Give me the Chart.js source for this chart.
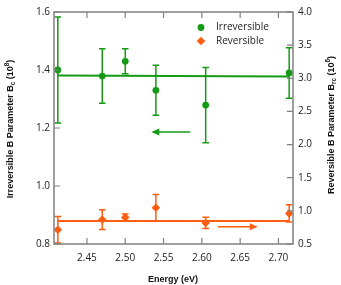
<!DOCTYPE html>
<html>
<head>
<meta charset="utf-8">
<script src="https://cdn.jsdelivr.net/npm/chart.js@4/dist/chart.umd.min.js"></script>
<style>
html,body{margin:0;padding:0;background:#fff;}
#wrap{width:341px;height:285px;position:relative;}
</style>
</head>
<body>
<div id="wrap"><canvas id="c" width="341" height="285"></canvas></div>
<script>
// ---- data ----
const energy   = [2.412, 2.470, 2.500, 2.540, 2.605, 2.714];
const irrev    = [1.400, 1.379, 1.430, 1.330, 1.279, 1.390];
const irrevErr = [0.183, 0.094, 0.043, 0.086, 0.130, 0.087];
const rev      = [0.716, 0.867, 0.901, 1.047, 0.817, 0.961];
const revErr   = [0.200, 0.150, 0.050, 0.200, 0.085, 0.130];
const fitX     = [2.412, 2.714];
const irrevFit = [1.381, 1.378];
const revFit   = [0.847, 0.847];
const xTicks   = [2.45, 2.50, 2.55, 2.60, 2.65, 2.70];
const yTicks   = [0.8, 1.0, 1.2, 1.4, 1.6];
const y2Ticks  = [0.5, 1.0, 1.5, 2.0, 2.5, 3.0, 3.5, 4.0];
const arrowIrrev = {x: [2.585, 2.534], y: 1.186};   // left axis
const arrowRev   = {x: [2.621, 2.673], y: 0.76};    // right axis
const legendLabels = ["Irreversible", "Reversible"];

const GREEN = "#159a15";
const ORANGE = "#ff5e12";
const AXIS = "#808080";
const TXT = "#222222";

function pts(xs, ys){ return xs.map((x,i)=>({x:x, y:ys[i]})); }

function drawRich(ctx, parts, size){
  const small = size*0.7;
  let total = 0;
  parts.forEach(p=>{ ctx.font = "bold " + (p[1]?small:size) + "px 'Liberation Sans', Arial, sans-serif"; total += ctx.measureText(p[0]).width; });
  let x = -total/2;
  parts.forEach(p=>{
    const s = p[1]?small:size;
    ctx.font = "bold " + s + "px 'Liberation Sans', Arial, sans-serif";
    const dy = p[1]===1 ? -size*0.45 : (p[1]===-1 ? size*0.3 : 0);
    ctx.fillText(p[0], x, dy);
    x += ctx.measureText(p[0]).width;
  });
}

const deco = {
  id: "deco",
  beforeDatasetsDraw(chart){
    const ctx = chart.ctx, xs = chart.scales.x, y = chart.scales.y, y2 = chart.scales.y2;
    ctx.save();
    ctx.lineWidth = 1.5;
    const cap = 3.3;
    [[irrev, irrevErr, y, GREEN],[rev, revErr, y2, ORANGE]].forEach(([vals, errs, sc, col])=>{
      ctx.strokeStyle = col;
      vals.forEach((v,i)=>{
        const px = xs.getPixelForValue(energy[i]);
        const t = sc.getPixelForValue(v+errs[i]), b = sc.getPixelForValue(v-errs[i]);
        ctx.beginPath();
        ctx.moveTo(px, t); ctx.lineTo(px, b);
        ctx.moveTo(px-cap, t); ctx.lineTo(px+cap, t);
        ctx.moveTo(px-cap, b); ctx.lineTo(px+cap, b);
        ctx.stroke();
      });
    });
    ctx.restore();
  },
  afterDraw(chart){
    const ctx = chart.ctx, a = chart.chartArea, xs = chart.scales.x, y = chart.scales.y, y2 = chart.scales.y2;
    ctx.save();
    ctx.strokeStyle = AXIS; ctx.lineWidth = 1.5;
    ctx.strokeRect(a.left, a.top, a.right-a.left, a.bottom-a.top);
    const tl = 6;
    ctx.lineWidth = 1.2;
    ctx.beginPath();
    xTicks.forEach(v=>{ const p = xs.getPixelForValue(v);
      ctx.moveTo(p, a.bottom); ctx.lineTo(p, a.bottom-tl);
      ctx.moveTo(p, a.top); ctx.lineTo(p, a.top+tl); });
    yTicks.forEach(v=>{ const p = y.getPixelForValue(v);
      ctx.moveTo(a.left, p); ctx.lineTo(a.left+tl, p); });
    y2Ticks.forEach(v=>{ const p = y2.getPixelForValue(v);
      ctx.moveTo(a.right, p); ctx.lineTo(a.right-tl, p); });
    ctx.stroke();
    function arrow(xa, yv, sc, col){
      const x0 = xs.getPixelForValue(xa[0]), x1 = xs.getPixelForValue(xa[1]), py = sc.getPixelForValue(yv);
      const dir = Math.sign(x1-x0);
      ctx.strokeStyle = col; ctx.fillStyle = col; ctx.lineWidth = 1.5;
      ctx.beginPath(); ctx.moveTo(x0, py); ctx.lineTo(x1 - dir*5, py); ctx.stroke();
      ctx.beginPath(); ctx.moveTo(x1, py); ctx.lineTo(x1 - dir*8, py-3.5); ctx.lineTo(x1 - dir*8, py+3.5); ctx.closePath(); ctx.fill();
    }
    arrow(arrowIrrev.x, arrowIrrev.y, y, GREEN);
    arrow(arrowRev.x, arrowRev.y, y2, ORANGE);
    const lx = 201, ly = 27.5, gap = 13.5;
    ctx.fillStyle = GREEN;
    ctx.beginPath(); ctx.arc(lx, ly, 3.4, 0, Math.PI*2); ctx.fill();
    ctx.fillStyle = ORANGE;
    ctx.beginPath(); ctx.moveTo(lx, ly+gap-4.3); ctx.lineTo(lx+4.3, ly+gap); ctx.lineTo(lx, ly+gap+4.3); ctx.lineTo(lx-4.3, ly+gap); ctx.closePath(); ctx.fill();
    ctx.fillStyle = TXT; ctx.font = "10px 'Open Sans', sans-serif"; ctx.textBaseline = "middle"; ctx.textAlign = "left";
    ctx.fillText(legendLabels[0], 216, ly);
    ctx.fillText(legendLabels[1], 216, ly+gap);
    ctx.fillStyle = "#111"; ctx.textAlign = "left"; ctx.textBaseline = "middle";
    ctx.save(); ctx.translate(173, 280);
    drawRich(ctx, [["Energy (eV)",0]], 9); ctx.restore();
    ctx.save(); ctx.translate(11, (a.top+a.bottom)/2+1); ctx.rotate(-Math.PI/2);
    drawRich(ctx, [["Irreversible B Parameter B",0],["c",-1],[" (10",0],["8",1],[")",0]], 9); ctx.restore();
    ctx.save(); ctx.translate(332, (a.top+a.bottom)/2-3); ctx.rotate(-Math.PI/2);
    drawRich(ctx, [["Reversible B Parameter B",0],["rc",-1],[" (10",0],["6",1],[")",0]], 9); ctx.restore();
    ctx.restore();
  }
};

new Chart(document.getElementById("c"), {
  type: "scatter",
  data: {
    datasets: [
      { type:"line", data: pts(fitX, irrevFit), yAxisID:"y", borderColor: GREEN, borderWidth: 2, pointRadius: 0, fill:false },
      { type:"line", data: pts(fitX, revFit), yAxisID:"y2", borderColor: ORANGE, borderWidth: 2, pointRadius: 0, fill:false },
      { label: legendLabels[0], data: pts(energy, irrev), yAxisID:"y", backgroundColor: GREEN, borderColor: GREEN, pointStyle:"circle", pointRadius: 3.4, borderWidth: 0 },
      { label: legendLabels[1], data: pts(energy, rev), yAxisID:"y2", backgroundColor: ORANGE, borderColor: ORANGE, pointStyle:"rectRot", pointRadius: 4.3, borderWidth: 0 }
    ]
  },
  options: {
    responsive: false,
    animation: false,
    layout: { padding: { top: 12, left: 0, right: 0, bottom: 0 } },
    plugins: { legend: { display:false }, tooltip: { enabled:false } },
    scales: {
      x: {
        type: "linear", position: "bottom", min: 2.407, max: 2.719,
        afterBuildTicks: s => { s.ticks = xTicks.map(v=>({value:v})); },
        afterFit: s => { s.height = 41; },
        grid: { display:false, drawTicks:false }, border: { display:false },
        ticks: { padding: 8, color: TXT, font: { family: "'Open Sans', sans-serif", size: 10 }, callback: v => v.toFixed(2), maxRotation: 0 }
      },
      y: {
        type: "linear", position: "left", min: 0.8, max: 1.6,
        afterBuildTicks: s => { s.ticks = yTicks.map(v=>({value:v})); },
        afterFit: s => { s.width = 54; },
        grid: { display:false, drawTicks:false }, border: { display:false },
        ticks: { padding: 4, color: TXT, font: { family: "'Open Sans', sans-serif", size: 10 }, callback: v => v.toFixed(1) }
      },
      y2: {
        type: "linear", position: "right", min: 0.5, max: 4.0,
        afterBuildTicks: s => { s.ticks = y2Ticks.map(v=>({value:v})); },
        afterFit: s => { s.width = 48; },
        grid: { display:false, drawTicks:false }, border: { display:false },
        ticks: { padding: 5, color: TXT, font: { family: "'Open Sans', sans-serif", size: 10 }, callback: v => v.toFixed(1) }
      }
    }
  },
  plugins: [deco]
});
</script>
</body>
</html>
